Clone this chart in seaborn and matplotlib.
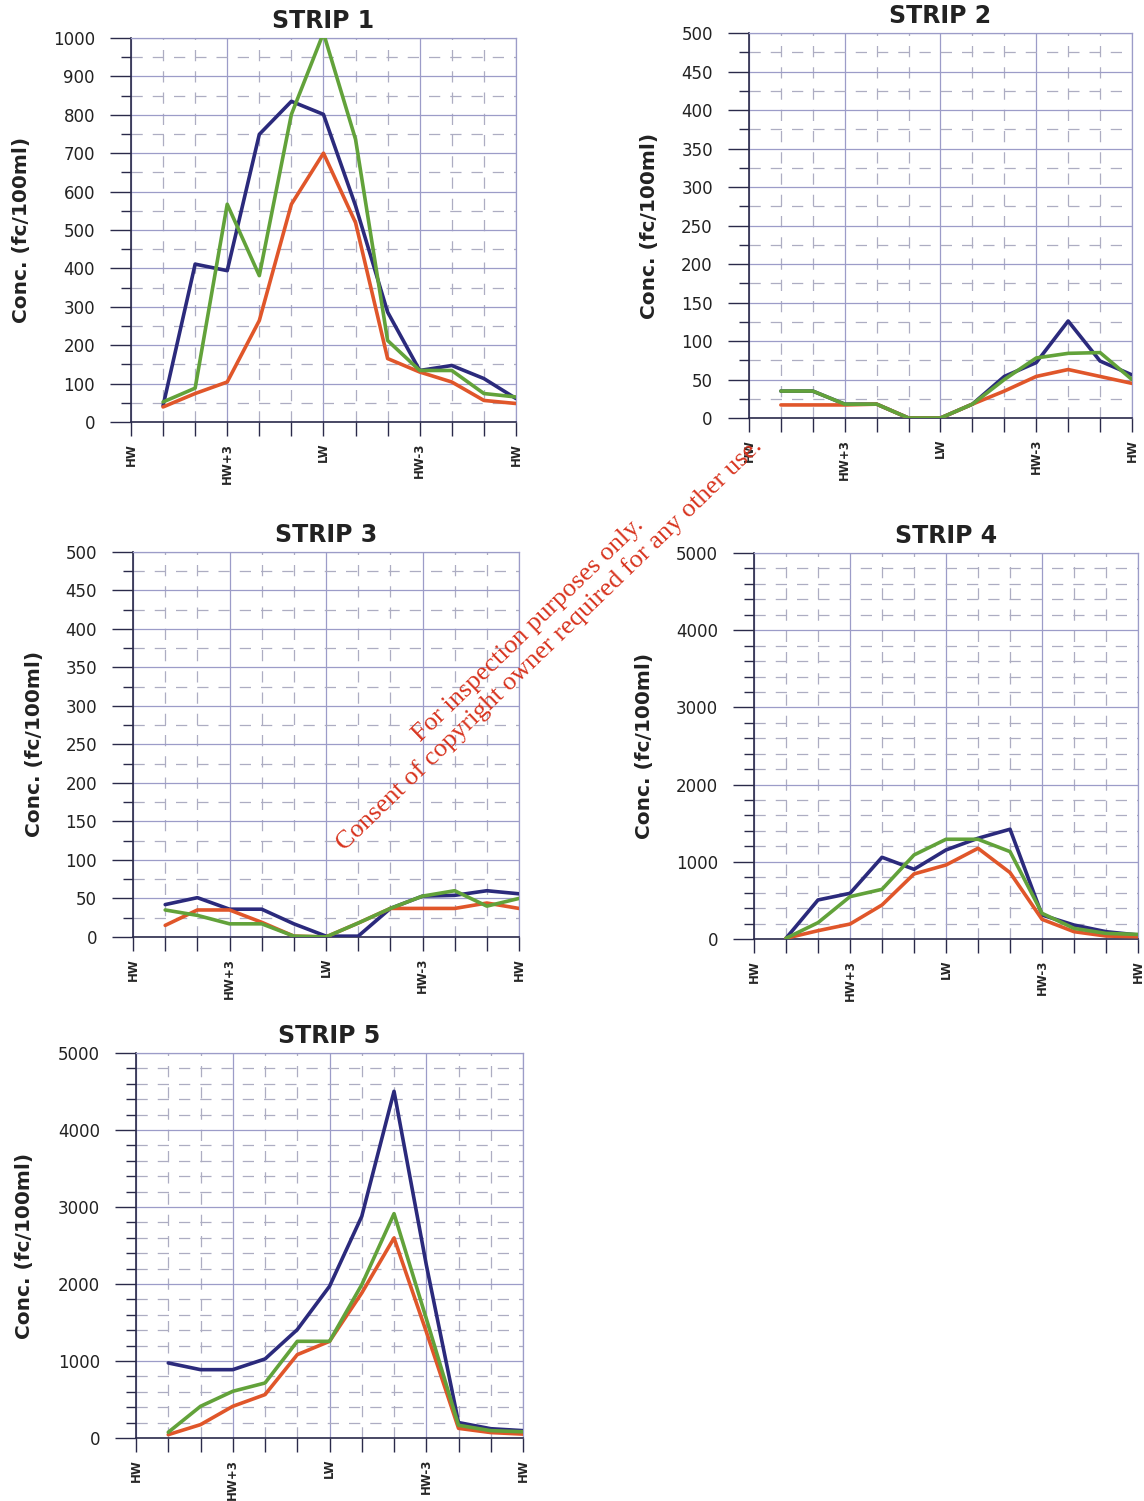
#!/usr/bin/env python3
"""
Faecal coliform concentrations per strip over a tidal cycle (HW -> LW -> HW).
Recreates the 5-panel figure as out.png.
"""

import matplotlib.pyplot as plt
import matplotlib.ticker as mticker
import pandas as pd
import seaborn as sns

# Data
hours = [1, 2, 3, 4, 5, 6, 7, 8, 9, 10, 11, 12]
tide_ticks = [0, 3, 6, 9, 12]
tide_labels = ["HW", "HW+3", "LW", "HW-3", "HW"]

strip1_blue = [42, 411, 394, 749, 835, 801, 563, 286, 134, 147, 113, 61]
strip1_green = [52, 88, 567, 381, 801, 1013, 736, 212, 134, 134, 74, 65]
strip1_red = [39, 74, 104, 264, 567, 700, 519, 165, 130, 104, 56, 48]

strip2_blue = [35, 35, 18, 18, 0, 0, 18, 54, 72, 126, 74, 56]
strip2_green = [35, 35, 18, 18, 0, 0, 18, 50, 78, 84, 85, 50]
strip2_red = [17, 17, 17, 18, 0, 0, 18, 35, 54, 63, 54, 45]

strip3_blue = [42, 51, 36, 36, 17, 1, 1, 37, 53, 54, 60, 56]
strip3_green = [35, 28, 17, 17, 1, 0, 18, 37, 53, 60, 40, 50]
strip3_red = [15, 35, 35, 19, 1, 0, 18, 37, 37, 37, 44, 37]

strip4_blue = [10, 506, 592, 1059, 903, 1154, 1305, 1422, 311, 181, 95, 52]
strip4_green = [10, 212, 549, 644, 1089, 1292, 1292, 1132, 333, 138, 73, 60]
strip4_red = [10, 108, 194, 441, 843, 959, 1175, 860, 255, 95, 39, 30]

strip5_blue = [974, 887, 887, 1026, 1407, 1970, 2879, 4502, 2250, 200, 120, 95]
strip5_green = [74, 411, 606, 714, 1255, 1255, 1991, 2913, 1550, 165, 95, 80]
strip5_red = [43, 173, 411, 563, 1082, 1255, 1883, 2597, 1380, 125, 70, 50]

# Style
sns.set_style("white")
plt.rcParams["font.family"] = ["DejaVu Sans"]

PALETTE = {"blue": "#2b2a7c", "red": "#e0562a", "green": "#62a23a"}
GRID_MAJOR = "#9c9cc8"
GRID_MINOR = "#adadc2"
AXIS_DARK = "#2a2a4a"

# panel: (title, [left, bottom, width, height], ymax, major, minor, ylabel x)
PANELS = [
    ("STRIP 1", [0.1145, 0.7189, 0.3365, 0.2558], 1000, 100, 50, -0.260,
     strip1_blue, strip1_green, strip1_red),
    ("STRIP 2", [0.6547, 0.7215, 0.3348, 0.2565], 500, 50, 25, -0.235,
     strip2_blue, strip2_green, strip2_red),
    ("STRIP 3", [0.1163, 0.3758, 0.3374, 0.2565], 500, 50, 25, -0.230,
     strip3_blue, strip3_green, strip3_red),
    ("STRIP 4", [0.6591, 0.3744, 0.3357, 0.2572], 5000, 1000, 200, -0.260,
     strip4_blue, strip4_green, strip4_red),
    ("STRIP 5", [0.1189, 0.0420, 0.3383, 0.2565], 5000, 1000, 200, -0.264,
     strip5_blue, strip5_green, strip5_red),
]


def draw_strip(fig, title, rect, ymax, major, minor, ylab_x, blue, green, red):
    ax = fig.add_axes(rect)
    df = pd.DataFrame(
        {
            "hour": hours * 3,
            "conc": blue + red + green,
            "series": ["blue"] * 12 + ["red"] * 12 + ["green"] * 12,
        }
    )
    sns.lineplot(
        data=df,
        x="hour",
        y="conc",
        hue="series",
        hue_order=["blue", "red", "green"],
        palette=PALETTE,
        linewidth=2.6,
        legend=False,
        ax=ax,
        zorder=3,
    )

    ax.set_xlim(0, 12)
    ax.set_ylim(0, ymax)

    ax.xaxis.set_major_locator(mticker.FixedLocator(tide_ticks))
    ax.set_xticklabels(tide_labels, rotation=90, fontsize=8.5, fontweight="bold")
    ax.xaxis.set_minor_locator(mticker.MultipleLocator(1))
    ax.yaxis.set_major_locator(mticker.MultipleLocator(major))
    ax.yaxis.set_minor_locator(mticker.MultipleLocator(minor))

    ax.tick_params(axis="x", which="both", direction="out", length=10, width=1,
                   color=AXIS_DARK, pad=5, bottom=True)
    ax.tick_params(axis="y", which="major", direction="out", length=15, width=1,
                   color=AXIS_DARK, labelsize=12, labelcolor="#222222", pad=11,
                   left=True)
    ax.tick_params(axis="y", which="minor", direction="out", length=7, width=1,
                   color=AXIS_DARK, left=True)

    ax.grid(True, which="major", color=GRID_MAJOR, linewidth=0.9, linestyle="-")
    ax.grid(True, which="minor", color=GRID_MINOR, linewidth=0.9,
            linestyle=(0, (9, 8)))
    ax.set_axisbelow(True)

    for side in ["top", "right"]:
        ax.spines[side].set_color(GRID_MAJOR)
        ax.spines[side].set_linewidth(0.9)
    for side in ["left", "bottom"]:
        ax.spines[side].set_color(AXIS_DARK)
        ax.spines[side].set_linewidth(1.2)

    ax.set_xlabel("")
    ax.set_ylabel("Conc. (fc/100ml)", fontsize=14.5, fontweight="bold",
                  color="#222222")
    ax.yaxis.set_label_coords(ylab_x, 0.5)
    ax.set_title(title, fontsize=17, fontweight="bold", color="#222222", pad=7)
    return ax


def main() -> None:
    fig = plt.figure(figsize=(11.44, 15.01), dpi=100)

    for panel in PANELS:
        draw_strip(fig, *panel)

    # watermark
    wm = dict(family=["Liberation Serif", "DejaVu Serif"], color="#d8341f",
              rotation=44, rotation_mode="anchor", ha="center", va="center",
              fontsize=19, zorder=10)
    fig.text(0.4620, 0.5805, "For inspection purposes only.", **wm)
    fig.text(0.4799, 0.5703,
             "Consent of copyright owner required for any other use.", **wm)

    fig.savefig("out.png", dpi=100)
    plt.close(fig)
    print("Saved: out.png")


if __name__ == "__main__":
    main()
